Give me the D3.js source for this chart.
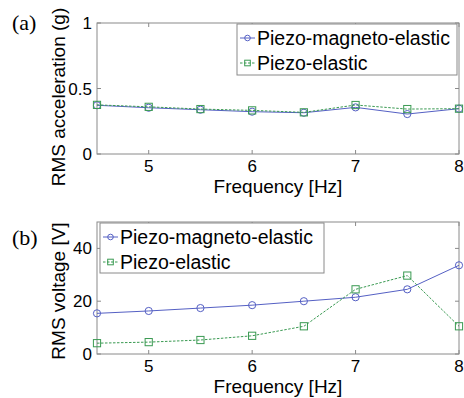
<!DOCTYPE html>
<html lang="en">
<head>
<meta charset="UTF-8">
<title>RMS acceleration and voltage</title>
<script src="https://d3js.org/d3.v7.min.js"></script>
<style>
  body { margin: 0; background: #fff; }
  svg text { font-family: Arial, "Liberation Sans", Helvetica, sans-serif; fill: #000; }
  svg text.panel-tag { font-family: "Times New Roman", "Liberation Serif", serif; font-size: 22px; }
  .tick-label { font-size: 17px; }
  .axis-title { font-size: 19px; }
  .legend-text { font-size: 19.5px; }
</style>
</head>
<body>
<svg width="464" height="398"></svg>
<script>
// frequencies (Hz)
const freq = [4.5, 5, 5.5, 6, 6.5, 7, 7.5, 8];
// (a) RMS acceleration (g)
const accPME = [0.372, 0.353, 0.338, 0.323, 0.315, 0.356, 0.305, 0.346];
const accPE  = [0.375, 0.360, 0.343, 0.333, 0.318, 0.374, 0.343, 0.346];
// (b) RMS voltage (V)
const voltPME = [15.4, 16.3, 17.4, 18.5, 20.0, 21.5, 24.5, 33.6];
const voltPE  = [4.1, 4.5, 5.3, 6.9, 10.5, 24.5, 29.7, 10.5];

const xTicks = [5, 6, 7, 8];
const accTicks = [0, 0.5, 1];
const voltTicks = [0, 20, 40];
const seriesNames = ["Piezo-magneto-elastic", "Piezo-elastic"];

const blue = "#5560c4";
const green = "#3a9a52";
const axisGrey = "#8a8a8a";

const svg = d3.select("svg");

function panel(opts) {
  const x = d3.scaleLinear().domain([4.5, 8]).range([97, 459]);
  const y = d3.scaleLinear().domain(opts.yDomain).range([opts.bottom, opts.top]);
  const g = svg.append("g");

  // plot box
  g.append("rect")
    .attr("x", x.range()[0]).attr("y", opts.top)
    .attr("width", x.range()[1] - x.range()[0]).attr("height", opts.bottom - opts.top)
    .attr("fill", "none").attr("stroke", axisGrey).attr("stroke-width", 1);

  // inward ticks, mirrored
  const tl = 4;
  xTicks.forEach(t => {
    g.append("line").attr("x1", x(t)).attr("x2", x(t)).attr("y1", opts.bottom).attr("y2", opts.bottom - tl).attr("stroke", axisGrey);
    g.append("line").attr("x1", x(t)).attr("x2", x(t)).attr("y1", opts.top).attr("y2", opts.top + tl).attr("stroke", axisGrey);
    g.append("text").attr("class", "tick-label")
      .attr("x", x(t)).attr("y", opts.bottom + 18).attr("text-anchor", "middle").text(t);
  });
  opts.yTicks.forEach(t => {
    g.append("line").attr("x1", x.range()[0]).attr("x2", x.range()[0] + tl).attr("y1", y(t)).attr("y2", y(t)).attr("stroke", axisGrey);
    g.append("line").attr("x1", x.range()[1]).attr("x2", x.range()[1] - tl).attr("y1", y(t)).attr("y2", y(t)).attr("stroke", axisGrey);
    g.append("text").attr("class", "tick-label")
      .attr("x", 92).attr("y", y(t) + 6).attr("text-anchor", "end").text(t);
  });

  // axis titles
  g.append("text").attr("class", "axis-title")
    .attr("x", 278).attr("y", opts.bottom + 39).attr("text-anchor", "middle").text("Frequency [Hz]");
  g.append("text").attr("class", "axis-title")
    .attr("transform", `translate(65,${opts.yLabelY}) rotate(-90)`)
    .attr("text-anchor", "middle").text(opts.yLabel);
  g.append("text").attr("class", "panel-tag")
    .attr("x", 12).attr("y", opts.tagY).text(opts.tag);

  // series
  const line = d3.line().x((d, i) => x(freq[i])).y(d => y(d));
  const series = [
    { vals: opts.pme, color: blue, dash: null, shape: "circle" },
    { vals: opts.pe, color: green, dash: "2.5,1.5", shape: "square" }
  ];
  series.forEach(s => {
    g.append("path").datum(s.vals).attr("d", line)
      .attr("fill", "none").attr("stroke", s.color).attr("stroke-width", 1)
      .attr("stroke-dasharray", s.dash);
    s.vals.forEach((v, i) => drawMarker(g, s.shape, x(freq[i]), y(v), 3.6, s.color));
  });

  // legend
  const lg = g.append("g");
  lg.append("rect").attr("x", opts.legend.x).attr("y", opts.legend.y)
    .attr("width", opts.legend.w).attr("height", opts.legend.h)
    .attr("fill", "#fff").attr("stroke", axisGrey);
  series.forEach((s, i) => {
    const ly = opts.legend.y + 14 + i * 25;
    const lx = opts.legend.x + 3;
    lg.append("line").attr("x1", lx).attr("x2", lx + 15).attr("y1", ly).attr("y2", ly)
      .attr("stroke", s.color).attr("stroke-dasharray", s.dash);
    drawMarker(lg, s.shape, lx + 7.5, ly, 2.8, s.color);
    lg.append("text").attr("class", "legend-text")
      .attr("x", lx + 17).attr("y", ly + 7).text(seriesNames[i]);
  });
}

function drawMarker(g, shape, cx, cy, r, color) {
  if (shape === "circle") {
    g.append("circle").attr("cx", cx).attr("cy", cy).attr("r", r)
      .attr("fill", "none").attr("stroke", color).attr("stroke-width", 1);
  } else {
    g.append("rect").attr("x", cx - r).attr("y", cy - r).attr("width", 2 * r).attr("height", 2 * r)
      .attr("fill", "none").attr("stroke", color).attr("stroke-width", 1);
  }
}

panel({
  yDomain: [0, 1], top: 23, bottom: 154, yTicks: accTicks,
  pme: accPME, pe: accPE,
  yLabel: "RMS acceleration (g)", yLabelY: 97, tag: "(a)", tagY: 30,
  legend: { x: 237, y: 24, w: 220, h: 51 }
});
panel({
  yDomain: [0, 50], top: 222, bottom: 354, yTicks: voltTicks,
  pme: voltPME, pe: voltPE,
  yLabel: "RMS voltage [V]", yLabelY: 291, tag: "(b)", tagY: 245,
  legend: { x: 100, y: 223, w: 224, h: 50 }
});
</script>
</body>
</html>
